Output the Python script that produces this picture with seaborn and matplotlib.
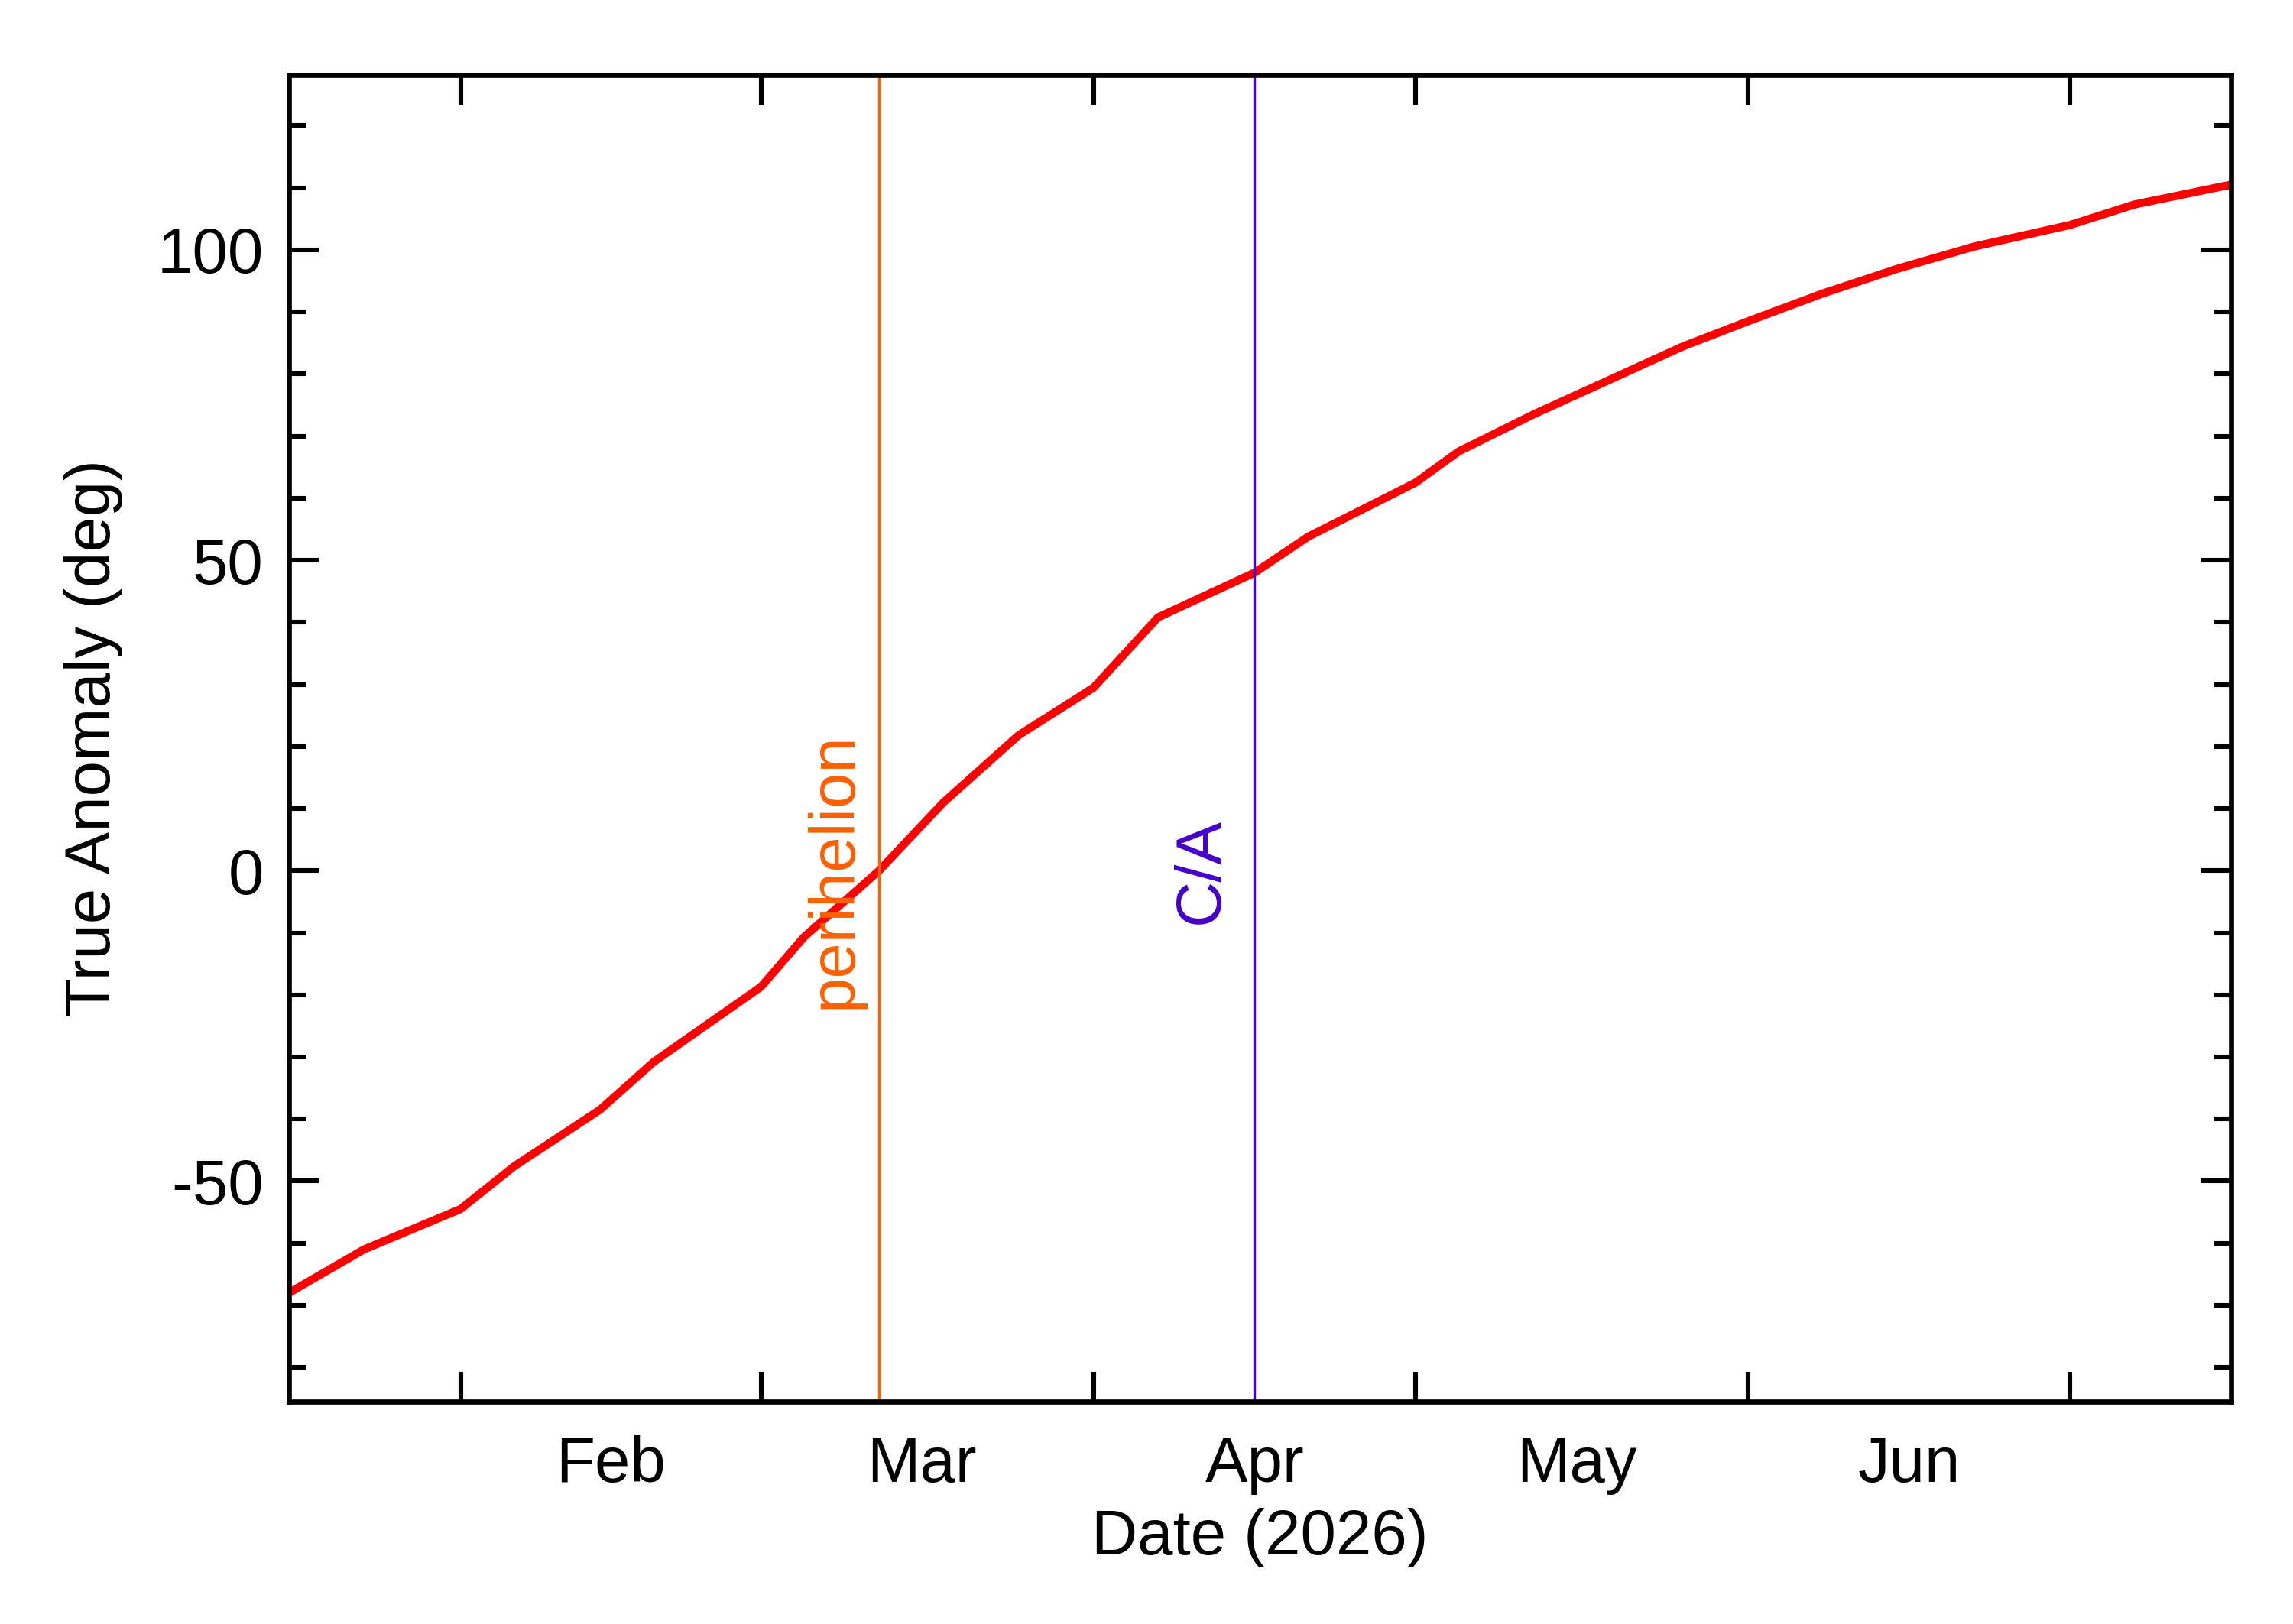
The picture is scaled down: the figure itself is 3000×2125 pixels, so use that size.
import matplotlib
matplotlib.use("Agg")
import matplotlib.pyplot as plt
import seaborn as sns
import pandas as pd
import numpy as np

dates = ["2026-01-16", "2026-01-23", "2026-02-01", "2026-02-06", "2026-02-14", "2026-02-19",
         "2026-03-01", "2026-03-05", "2026-03-12", "2026-03-18", "2026-03-25", "2026-04-01",
         "2026-04-07", "2026-04-16", "2026-04-21", "2026-05-01", "2026-05-05", "2026-05-12",
         "2026-05-19", "2026-05-26", "2026-06-01", "2026-06-08", "2026-06-15", "2026-06-22",
         "2026-07-01", "2026-07-07", "2026-07-16"]
anomaly = [-68, -61, -54.5, -47.6, -38.5, -30.8,
           -18.7, -10.7, 0, 11, 21.8, 29.5,
           40.8, 48, 53.8, 62.5, 67.5, 73.5,
           79, 84.5, 88.5, 93, 97, 100.5,
           104, 107.3, 110.5]
month_starts = ["2026-02-01", "2026-03-01", "2026-04-01", "2026-05-01", "2026-06-01", "2026-07-01"]
month_labels = ["Feb", "Mar", "Apr", "May", "Jun"]
label_dates = ["2026-02-15", "2026-03-16", "2026-04-16", "2026-05-16", "2026-06-16"]
perihelion = "2026-03-12"
closest = "2026-04-16"

sns.set_style("white")
plt.rcParams['font.family'] = ['Liberation Sans', 'DejaVu Sans']
plt.rcParams['text.color'] = 'black'
plt.rcParams['axes.labelcolor'] = 'black'
plt.rcParams['xtick.color'] = 'black'
plt.rcParams['ytick.color'] = 'black'

df = pd.DataFrame({"date": pd.to_datetime(dates), "v": anomaly})
fig = plt.figure(figsize=(15, 10.625), dpi=200)
ax = fig.add_axes([0.126, 0.137, 0.847, 0.817])
sns.lineplot(data=df, x="date", y="v", ax=ax, color="red", lw=3.8)

ax.axvline(pd.Timestamp(perihelion), color="#FF6000", lw=1.2)
ax.axvline(pd.Timestamp(closest), color="#4400CC", lw=1.2)
ax.text(pd.Timestamp(perihelion) - pd.Timedelta(days=4.2), 0, "perihelion", rotation=90,
        color="#FF6000", fontsize=30, ha="center", va="center")
ax.text(pd.Timestamp(closest) - pd.Timedelta(days=5), 0, "C/A", rotation=90,
        color="#4400CC", fontsize=30, ha="center", va="center")

ax.set_xlim(pd.Timestamp("2026-01-16"), pd.Timestamp("2026-07-16"))
ax.set_ylim(-85.5, 128.2)
ax.set_xticks(pd.to_datetime(month_starts))
ax.set_xticklabels([])
ax.set_xticks(pd.to_datetime(label_dates), minor=True)
ax.set_xticklabels(month_labels, minor=True)
ax.tick_params(axis="x", which="minor", length=0, pad=16, labelsize=30)
ax.tick_params(axis="x", which="major", length=14, width=2.2, direction="in", top=True, bottom=True)
ax.set_yticks([-50, 0, 50, 100])
ax.set_yticklabels(["-50", "0", "50", "100"])
ax.set_yticks(np.arange(-80, 130, 10), minor=True)
ax.tick_params(axis="y", which="major", length=14, width=2.2, direction="in", left=True, right=True, labelsize=30, pad=12)
ax.tick_params(axis="y", which="minor", length=8, width=2.2, direction="in", left=True, right=True)
for s in ax.spines.values():
    s.set_linewidth(2.4)
    s.set_color("black")
ax.set_xlabel("Date (2026)", fontsize=30, labelpad=6)
ax.set_ylabel("True Anomaly (deg)", fontsize=30, labelpad=16)
fig.savefig("out.png", dpi=200)
